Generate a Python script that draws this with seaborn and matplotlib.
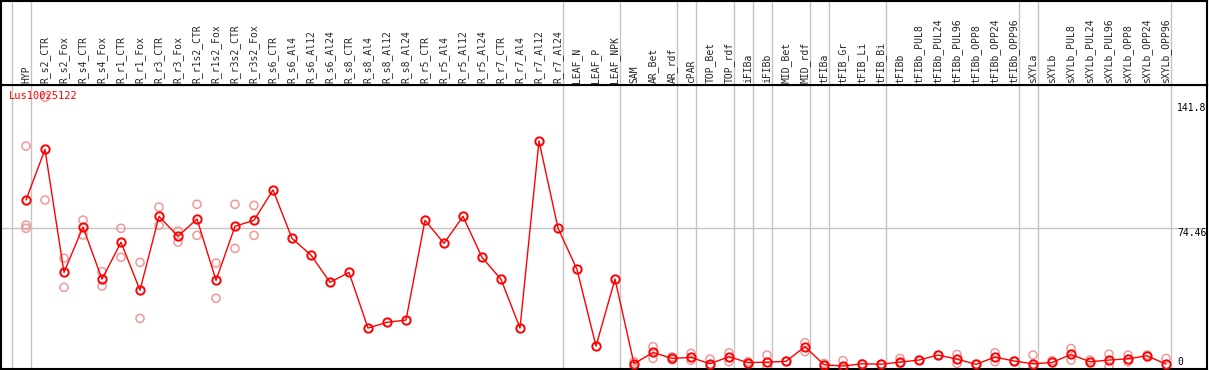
import numpy as np
import pandas as pd
import matplotlib
matplotlib.use("Agg")
import matplotlib.pyplot as plt
import seaborn as sns

gene = "Lus10025122"

categories = [
    "HYP", "R_s2_CTR", "R_s2_Fox", "R_s4_CTR", "R_s4_Fox", "R_r1_CTR", "R_r1_Fox",
    "R_r3_CTR", "R_r3_Fox", "R_r1s2_CTR", "R_r1s2_Fox", "R_r3s2_CTR", "R_r3s2_Fox",
    "R_s6_CTR", "R_s6_Al4", "R_s6_Al12", "R_s6_Al24", "R_s8_CTR", "R_s8_Al4",
    "R_s8_Al12", "R_s8_Al24", "R_r5_CTR", "R_r5_Al4", "R_r5_Al12", "R_r5_Al24",
    "R_r7_CTR", "R_r7_Al4", "R_r7_Al12", "R_r7_Al24", "LEAF_N", "LEAF_P", "LEAF_NPK",
    "SAM", "AR_Bet", "AR_rdf", "cPAR", "TOP_Bet", "TOP_rdf", "iFIBa", "iFIBb",
    "MID_Bet", "MID_rdf", "tFIBa", "tFIB_Gr", "tFIB_Li", "tFIB_Bi", "tFIBb",
    "tFIBb_PUL8", "tFIBb_PUL24", "tFIBb_PUL96", "tFIBb_OPP8", "tFIBb_OPP24",
    "tFIBb_OPP96", "sXYLa", "sXYLb", "sXYLb_PUL8", "sXYLb_PUL24", "sXYLb_PUL96",
    "sXYLb_OPP8", "sXYLb_OPP24", "sXYLb_OPP96",
]

means = [
    89.7, 116.9, 50.8, 75.2, 47.2, 67.0, 41.2, 80.9, 70.2, 79.5, 46.5, 75.6, 78.8,
    95.1, 69.1, 60.1, 45.5, 50.8, 20.9, 24.0, 25.2, 78.8, 66.4, 80.9, 58.9,
    47.1, 20.9, 121.4, 74.6, 52.4, 11.2, 47.2,
    1.7, 7.8, 4.6, 5.1, 1.7, 5.5, 2.3, 2.6, 3.0, 10.9, 1.2, 0.5, 1.7, 1.5, 2.6,
    3.7, 6.4, 4.2, 1.4, 5.3, 3.2, 1.7, 2.4, 6.7, 2.8, 3.7, 4.4, 6.0, 1.5,
]

replicates = [
    [118.7, 76.2, 74.5], [144.9, 89.7], [58.4, 42.8], [78.9, 70.9], [51.2, 43.5],
    [74.5, 58.9], [56.2, 26.1], [85.9, 76.1], [73.0, 67.1], [87.4, 70.7],
    [55.8, 36.9], [87.4, 63.7], [86.8, 70.7],
    [], [], [], [], [], [], [], [], [], [], [], [], [], [], [], [], [], [], [],
    [2.8, 0.4], [10.9, 4.6], [5.4, 3.8], [7.3, 3.6], [4.2, 0.6], [7.6, 2.8],
    [2.8, 1.4], [6.4, 0.1], [3.0], [13.0, 8.2], [1.9, 0.5], [3.4, 0.0], [1.7],
    [1.5], [4.6, 1.9], [3.7], [6.4], [6.7, 1.9], [1.4], [7.6, 2.8], [3.2],
    [6.4, 0.0], [3.4], [9.9, 3.7], [3.7], [6.9, 0.1], [6.4, 2.8], [6.4], [4.6],
]

scale_labels = [141.8, 74.46, 0]
group_edges = [-1, 0, 28, 31, 34, 35, 37, 38, 39, 41, 42, 45, 52, 53, 60]

W, H = 1209, 370
pos = np.arange(len(categories))
mean_df = pd.DataFrame({"pos": pos, "expr": means})
rep_df = pd.DataFrame(
    [(i, v) for i, vals in enumerate(replicates) for v in vals], columns=["pos", "expr"]
)

sns.set_style("white")
plt.rcParams["font.family"] = ["DejaVu Sans Mono"]

fig = plt.figure(figsize=(W / 100, H / 100), dpi=100)
ax = fig.add_axes([1 / W, 1 / H, 1206 / W, 284 / H])
ax_top = fig.add_axes([1 / W, 285 / H, 1206 / W, 84 / H])

xlim = ((1 - 26) / 19, (1207 - 26) / 19)
for a in (ax, ax_top):
    a.set_xlim(*xlim)
    a.set_xticks([])
    a.set_yticks([])
    for s in a.spines.values():
        s.set_color("black")
        s.set_linewidth(1.5)
    for e in group_edges:
        a.axvline(e + 0.24, color="#c4c4c4", lw=1, zorder=0)
ax.set_ylim(-1.1, 151.5)
ax_top.set_ylim(0, 1)
ax.axhline(74.46, color="#c4c4c4", lw=1, zorder=0)

sns.scatterplot(data=rep_df, x="pos", y="expr", s=34, marker="o", ax=ax,
                zorder=2, legend=False)
ax.collections[-1].set_facecolor("none")
ax.collections[-1].set_edgecolor("#f09898")
ax.collections[-1].set_linewidth(1.1)

sns.lineplot(data=mean_df, x="pos", y="expr", color="red", lw=1, marker="o",
             markersize=6, markerfacecolor="none", markeredgecolor="red",
             markeredgewidth=1.4, ax=ax, zorder=3)
ax.set_xlabel("")
ax.set_ylabel("")

for i, c in enumerate(categories):
    ax_top.text(i, 0.02, c, rotation=90, ha="center", va="bottom", fontsize=7)

lab_x = (1177 - 26) / 19
for v in scale_labels:
    ax.text(lab_x, v, f"{v:g}", ha="left", va="top" if v > 0 else "bottom",
            fontsize=7, color="black")

fig.text(9 / W, 1 - 91 / H, gene, ha="left", va="top", fontsize=7.5, color="red")

fig.savefig("out.png", dpi=100)
